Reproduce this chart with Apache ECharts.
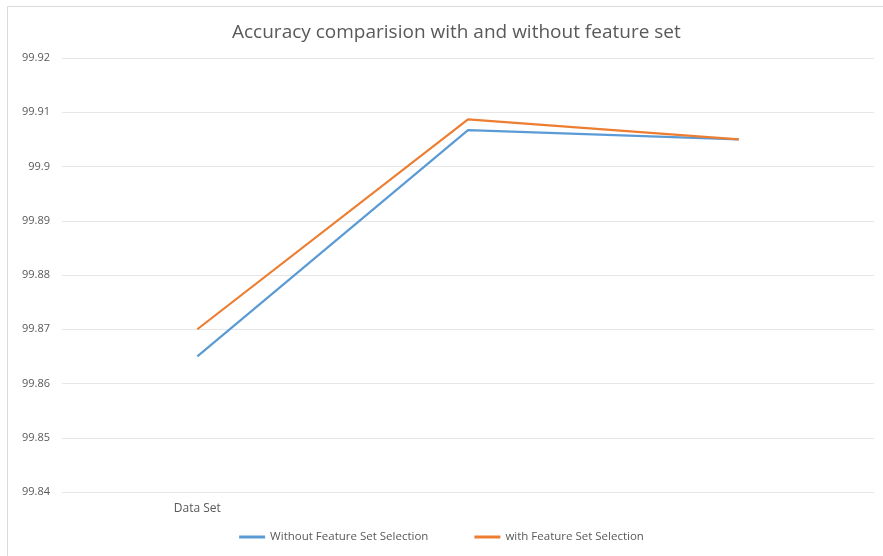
<!DOCTYPE html>
<html>
<head>
<meta charset="utf-8">
<script src="https://cdn.jsdelivr.net/npm/echarts@6/dist/echarts.min.js"></script>
<style>
html,body{margin:0;padding:0;background:#fff;}
#chart{width:883px;height:556px;}
</style>
</head>
<body>
<div id="chart"></div>
<script>
// Categories along the x axis (only the first carries a label)
const categories = ['Data Set', '', ''];
// Accuracy (%) for each configuration
const withoutSelection = [99.865, 99.9067, 99.905];
const withSelection = [99.870, 99.9087, 99.905];
const seriesNames = ['Without Feature Set Selection', 'with Feature Set Selection'];
const yTicks = { min: 99.84, max: 99.92, step: 0.01 };

const chart = echarts.init(document.getElementById('chart'));
chart.setOption({
  backgroundColor: '#fff',
  animation: false,
  graphic: [{
    type: 'rect',
    shape: { x: 7.5, y: 6.5, width: 890, height: 560 },
    style: { fill: 'none', stroke: '#d9d9d9', lineWidth: 1 },
    silent: true
  }],
  title: {
    text: 'Accuracy comparision with and without feature set',
    left: 227,
    top: 18,
    textStyle: { fontFamily: 'Open Sans', fontSize: 19, fontWeight: 'normal', color: '#595959' }
  },
  legend: {
    bottom: 8,
    left: 'center',
    itemWidth: 26,
    itemHeight: 3,
    itemGap: 46,
    icon: 'rect',
    textStyle: { fontFamily: 'Open Sans', fontSize: 11.5, color: '#595959' },
    data: seriesNames
  },
  grid: { left: 62, right: 9, top: 58, bottom: 64 },
  xAxis: {
    type: 'category',
    data: categories,
    boundaryGap: true,
    axisLine: { show: false },
    axisTick: { show: false },
    axisLabel: { fontFamily: 'Open Sans', fontSize: 12, color: '#595959', margin: 11 }
  },
  yAxis: {
    type: 'value',
    min: yTicks.min,
    max: yTicks.max,
    interval: yTicks.step,
    axisLine: { show: false },
    axisTick: { show: false },
    axisLabel: {
      fontFamily: 'Open Sans', fontSize: 11, color: '#595959', margin: 12,
      formatter: v => String(parseFloat(v.toFixed(2)))
    },
    splitLine: { lineStyle: { color: '#e6e6e6', width: 1 } }
  },
  series: [
    {
      name: seriesNames[0],
      type: 'line',
      data: withoutSelection,
      symbol: 'none',
      lineStyle: { color: '#5B9BD5', width: 2.2 },
      itemStyle: { color: '#5B9BD5' }
    },
    {
      name: seriesNames[1],
      type: 'line',
      data: withSelection,
      symbol: 'none',
      lineStyle: { color: '#ED7D31', width: 2.2 },
      itemStyle: { color: '#ED7D31' }
    }
  ]
});
</script>
</body>
</html>
